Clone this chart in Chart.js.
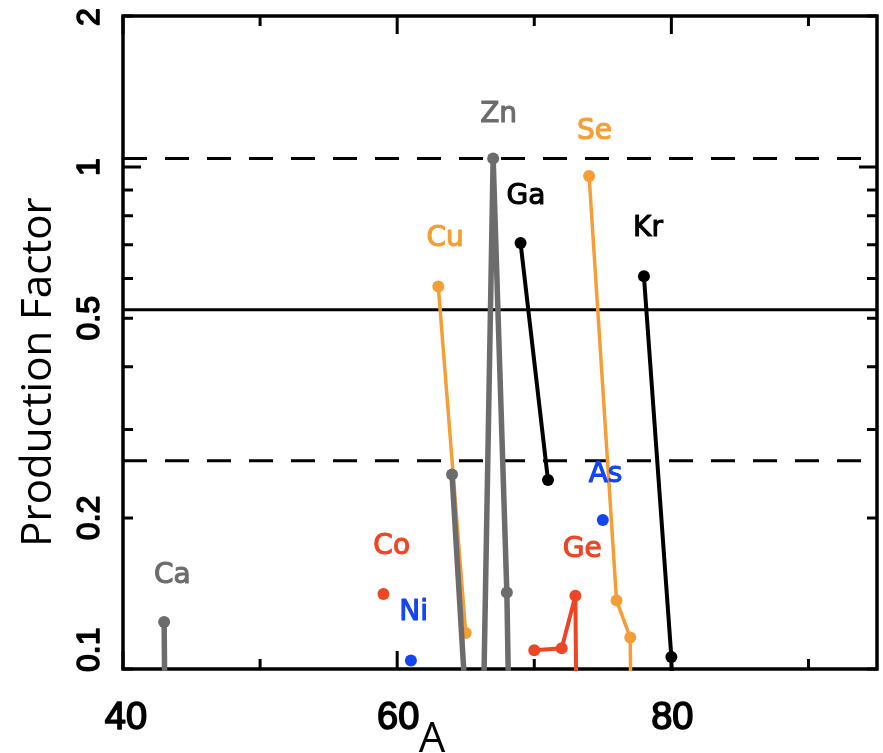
<!DOCTYPE html>
<html><head><meta charset="utf-8">
<script src="https://cdn.jsdelivr.net/npm/chart.js@4.4.0/dist/chart.umd.min.js"></script>
<style>html,body{margin:0;padding:0;background:#fff;}canvas{display:block;}</style>
</head><body>
<canvas id="c" width="883" height="753"></canvas>
<script>
// ---- data (mass number A, production factor) ----
const caMass = [43, 44];            const caPF = [0.124, 0.0001];
const coMass = [59];                const coPF = [0.141];
const niMass = [61];                const niPF = [0.104];
const cuMass = [63, 65];            const cuPF = [0.578, 0.118];
const znMass = [64, 66, 67, 68, 70]; const znPF = [0.244, 0.03, 1.04, 0.142, 0.0001];
const gaMass = [69, 71];            const gaPF = [0.706, 0.238];
const geMass = [70, 72, 73, 74];    const gePF = [0.109, 0.110, 0.140, 0.0001];
const asMass = [75];                const asPF = [0.198];
const seMass = [74, 76, 77, 78];    const sePF = [0.96, 0.137, 0.1155, 0.0001];
const krMass = [78, 80, 82];        const krPF = [0.606, 0.1057, 0.0001];

const refSolid = 0.52;
const refDashed = [1.04, 0.26];

const xTickValues = [40, 50, 60, 70, 80, 90];
const xTickLabels = ['40', '', '60', '', '80', ''];
const yTickValues = [2, 1, 0.9, 0.8, 0.7, 0.6, 0.5, 0.4, 0.3, 0.2, 0.1];
const yTickLabels = ['2', '1', '', '', '', '', '0.5', '', '', '0.2', '0.1'];

const elementNames = ['Ca', 'Co', 'Ni', 'Cu', 'Zn', 'Ga', 'Ge', 'As', 'Se', 'Kr'];
const labelMass = [43.6, 59.6, 61.2, 63.5, 67.4, 69.4, 73.5, 75.2, 74.4, 78.3];
const labelPF = [0.154, 0.176, 0.130, 0.723, 1.28, 0.878, 0.174, 0.245, 1.18, 0.757];

const xTitle = 'A';
const yTitle = 'Production Factor';

// ---- styles ----
const GRAY = '#6c6c6c', ORANGE = '#f59e35', RED = '#ee4524', BLUE = '#1346f2', BLACK = '#000000';
const labelColors = [GRAY, RED, BLUE, ORANGE, GRAY, BLACK, RED, BLUE, ORANGE, BLACK];

function pts(m, v) { return m.map((x, i) => ({ x: x, y: v[i] })); }
function series(m, v, color, width, radius) {
  return { data: pts(m, v), borderColor: color, backgroundColor: color, borderWidth: width,
    pointRadius: radius, pointHoverRadius: radius, pointBorderWidth: 0, showLine: true,
    borderJoinStyle: 'round', borderCapStyle: 'round',
    tension: 0, clip: { left: 0, top: 0, right: 0, bottom: 2 } };
}
const refLine = (val, dash) => ({
  data: [{ x: 40, y: val }, { x: 95, y: val }], borderColor: BLACK, borderWidth: 3,
  borderDash: dash, pointRadius: 0, showLine: true, tension: 0, clip: 0
});

const datasets = [
  series(znMass, znPF, GRAY, 5.5, 6),
  series(caMass, caPF, GRAY, 5.5, 6),
  series(cuMass, cuPF, ORANGE, 3.5, 6),
  series(seMass, sePF, ORANGE, 3.5, 6),
  series(gaMass, gaPF, BLACK, 4, 6),
  series(krMass, krPF, BLACK, 4, 6),
  series(geMass, gePF, RED, 4, 6),
  series(coMass, coPF, RED, 3, 6),
  series(niMass, niPF, BLUE, 3, 6),
  series(asMass, asPF, BLUE, 3, 6),
  refLine(refSolid, []),
  refLine(refDashed[0], [24, 18]),
  refLine(refDashed[1], [24, 18])
];

function heavyText(ctx, s, px, py, color, w) {
  ctx.fillStyle = color; ctx.strokeStyle = color; ctx.lineWidth = w; ctx.lineJoin = 'round';
  ctx.strokeText(s, px, py);
  ctx.fillText(s, px, py);
}

const framePlugin = {
  id: 'frame',
  beforeDatasetsDraw(chart) {
    const { ctx, chartArea: a, scales: { x, y } } = chart;
    ctx.save();
    ctx.strokeStyle = BLACK;
    ctx.lineWidth = 3;
    ctx.lineCap = 'butt';
    xTickValues.forEach((v, i) => {
      const px = x.getPixelForValue(v);
      const len = xTickLabels[i] ? 18 : 10;
      ctx.beginPath();
      ctx.moveTo(px, a.bottom); ctx.lineTo(px, a.bottom - len);
      ctx.moveTo(px, a.top); ctx.lineTo(px, a.top + len);
      ctx.stroke();
    });
    yTickValues.forEach((v) => {
      const py = y.getPixelForValue(v);
      const len = (v === 1) ? 18 : 10;
      ctx.beginPath();
      ctx.moveTo(a.left, py); ctx.lineTo(a.left + len, py);
      ctx.moveTo(a.right, py); ctx.lineTo(a.right - len, py);
      ctx.stroke();
    });
    ctx.lineWidth = 3.5;
    ctx.strokeRect(a.left, a.top, a.right - a.left, a.bottom - a.top);
    ctx.restore();
  },
  afterDraw(chart) {
    const { ctx, chartArea: a, scales: { x, y } } = chart;
    ctx.save();
    // x tick labels
    ctx.font = '38px "Liberation Sans", Arial, sans-serif';
    ctx.textAlign = 'center';
    ctx.textBaseline = 'middle';
    xTickValues.forEach((v, i) => {
      if (!xTickLabels[i]) return;
      let px = x.getPixelForValue(v);
      if (i === 0) px += 2;
      heavyText(ctx, xTickLabels[i], px + 1, 719, BLACK, 1.6);
    });
    // y tick labels (rotated)
    ctx.font = '32px "Liberation Sans", Arial, sans-serif';
    yTickValues.forEach((v, i) => {
      const lab = yTickLabels[i];
      if (!lab) return;
      const py = y.getPixelForValue(v);
      ctx.save();
      ctx.translate(90, py);
      ctx.rotate(-Math.PI / 2);
      if (v === 0.1) { ctx.textAlign = 'left'; heavyText(ctx, lab, -3, 0, BLACK, 1.6); }
      else if (v === 2) { ctx.textAlign = 'center'; heavyText(ctx, lab, -1, 0, BLACK, 1.6); }
      else { ctx.textAlign = 'center'; heavyText(ctx, lab, 0, 0, BLACK, 1.6); }
      ctx.restore();
    });
    // axis titles
    ctx.fillStyle = BLACK;
    ctx.font = '42px "Open Sans", sans-serif';
    ctx.textAlign = 'center';
    ctx.textBaseline = 'alphabetic';
    ctx.fillText(xTitle, 432, 752);
    ctx.save();
    ctx.translate(51, 372);
    ctx.rotate(-Math.PI / 2);
    ctx.fillText(yTitle, 0, 0);
    ctx.restore();
    // element labels
    ctx.font = '28px "DejaVu Sans", sans-serif';
    ctx.textAlign = 'center';
    ctx.textBaseline = 'middle';
    elementNames.forEach((n, i) => {
      heavyText(ctx, n, x.getPixelForValue(labelMass[i]), y.getPixelForValue(labelPF[i]) + 1, labelColors[i], 1.1);
    });
    ctx.restore();
  }
};

new Chart(document.getElementById('c'), {
  type: 'scatter',
  data: { datasets: datasets },
  options: {
    responsive: false,
    animation: false,
    devicePixelRatio: 1,
    layout: { padding: { left: 123, top: 16, right: 3, bottom: 84 } },
    plugins: { legend: { display: false }, tooltip: { enabled: false }, title: { display: false } },
    scales: {
      x: { type: 'linear', min: 40, max: 95, display: false },
      y: { type: 'logarithmic', min: 0.1, max: 2, display: false }
    }
  },
  plugins: [framePlugin]
});
</script>
</body></html>
